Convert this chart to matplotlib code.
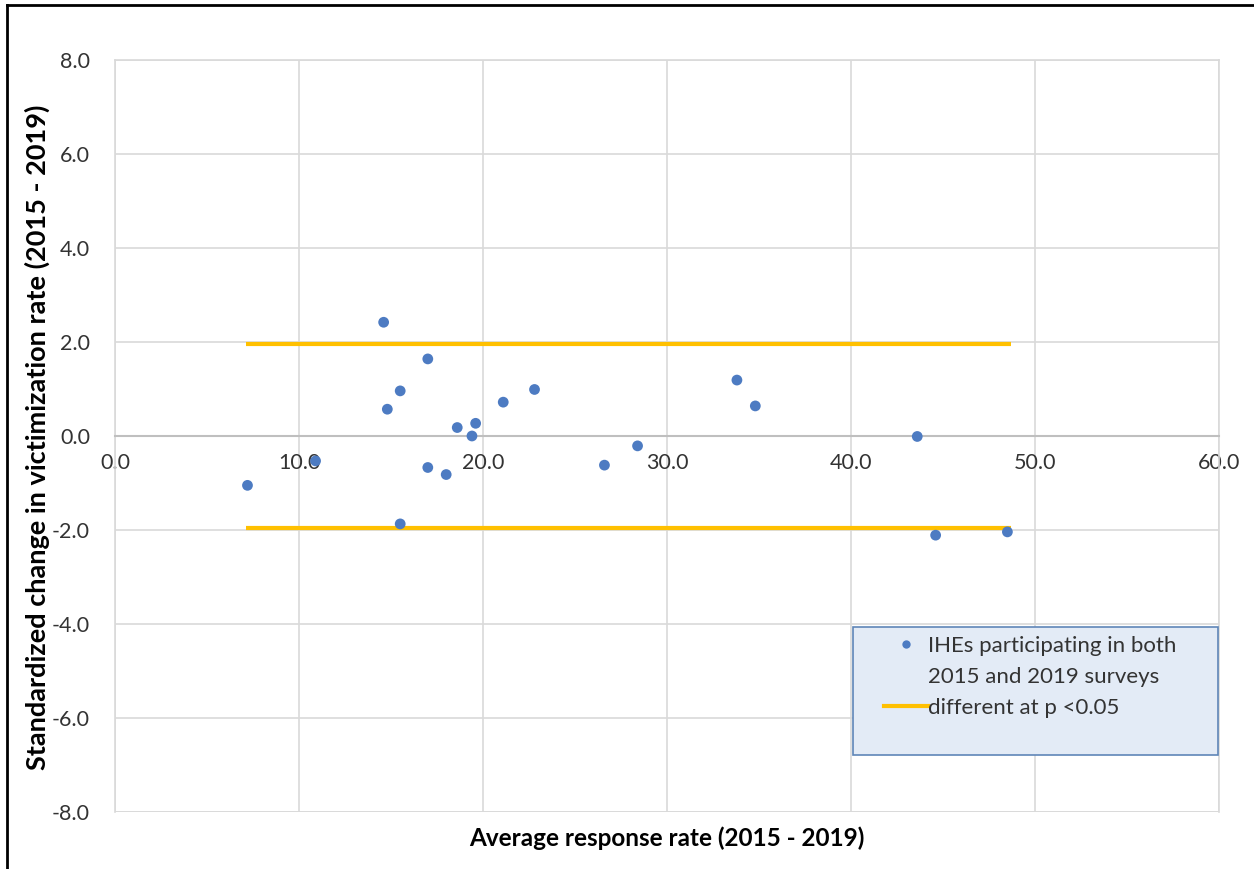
import matplotlib.pyplot as plt
from matplotlib.patches import Rectangle
from matplotlib.lines import Line2D

plt.rcParams['font.family'] = ['Lato', 'DejaVu Sans']

# data
resp_rate = [7.2, 10.9, 14.6, 14.8, 15.5, 15.5, 17.0, 17.0, 18.0, 18.6,
             19.4, 19.6, 21.1, 22.8, 26.6, 28.4, 33.8, 34.8, 43.6, 44.6, 48.5]
std_change = [-1.05, -0.53, 2.42, 0.57, 0.96, -1.87, 1.64, -0.67, -0.82, 0.18,
              0.0, 0.27, 0.72, 0.99, -0.62, -0.21, 1.19, 0.64, -0.01, -2.11, -2.04]
sig_x = [7.1, 48.7]
sig_upper = [1.96, 1.96]
sig_lower = [-1.96, -1.96]

xticks = [0, 10, 20, 30, 40, 50, 60]
yticks = [-8, -6, -4, -2, 0, 2, 4, 6, 8]

fig = plt.figure(figsize=(12.54, 8.69), dpi=100)
ax = fig.add_axes([115/1254, 1 - 812/869, (1219-115)/1254, (812-60)/869])

grid_c = '#d9d9d9'
ax.set_xlim(0, 60)
ax.set_ylim(-8, 8)
ax.set_xticks(xticks)
ax.set_yticks(yticks)
ax.set_xticklabels([f'{v:.1f}' for v in xticks])
ax.set_yticklabels([f'{v:.1f}' for v in yticks])
ax.grid(True, color=grid_c, linewidth=1.2)
ax.set_axisbelow(True)

for s in ['top', 'right', 'left']:
    ax.spines[s].set_color(grid_c)
    ax.spines[s].set_linewidth(1.2)
ax.spines['bottom'].set_position(('data', 0))
ax.spines['bottom'].set_color('#bfbfbf')
ax.spines['bottom'].set_linewidth(1.5)
ax.axhline(-8, color=grid_c, linewidth=1.2)

ax.tick_params(axis='both', length=0, labelsize=15.5, colors='#333333')
ax.tick_params(axis='x', pad=12)
ax.tick_params(axis='y', pad=18)

ax.plot(sig_x, sig_upper, color='#ffc000', linewidth=3, solid_capstyle='butt', zorder=2)
ax.plot(sig_x, sig_lower, color='#ffc000', linewidth=3, solid_capstyle='butt', zorder=2)
ax.scatter(resp_rate, std_change, s=60, color='#4d7bc2', edgecolors='none', zorder=3)

fig.text((465+869)/2/1254, 1 - 838/869, 'Average response rate (2015 - 2019)',
         ha='center', va='center', fontsize=17.5, fontweight='bold')
fig.text(37/1254, 1 - 437/869, 'Standardized change in victimization rate (2015 - 2019)',
         ha='center', va='center', rotation=90, fontsize=19.5, fontweight='bold')

# legend box
x0, x1 = (853-115)/1104, (1218-115)/1104
y0, y1 = (812-755)/752, (812-627)/752
ax.add_patch(Rectangle((x0, y0), x1 - x0, y1 - y0, transform=ax.transAxes,
                       facecolor='#e3ebf6', edgecolor='#5f86b8', linewidth=1.2, zorder=4))
handles = [Line2D([], [], linestyle='none', marker='o', markersize=6,
                  markerfacecolor='#4d7bc2', markeredgecolor='none'),
           Line2D([], [], linestyle='none'),
           Line2D([], [], color='#ffc000', linewidth=3)]
labels = ['IHEs participating in both', '2015 and 2019 surveys', 'different at p <0.05']
leg = ax.legend(handles, labels,
                loc='upper left', bbox_to_anchor=((884-115)/1104, (812-636)/752), frameon=False,
                fontsize=16, handlelength=2.0, handletextpad=0.0, labelspacing=0.5,
                borderaxespad=0, borderpad=0)
leg.set_zorder(5)
for t in leg.get_texts():
    t.set_color('#333333')

# outer frame (left and top)
fig.add_artist(Line2D([7/1254, 7/1254], [0, 1 - 5/869], color='black', linewidth=2))
fig.add_artist(Line2D([7/1254, 1], [1 - 5/869, 1 - 5/869], color='black', linewidth=2))

fig.savefig('out.png', dpi=100)
